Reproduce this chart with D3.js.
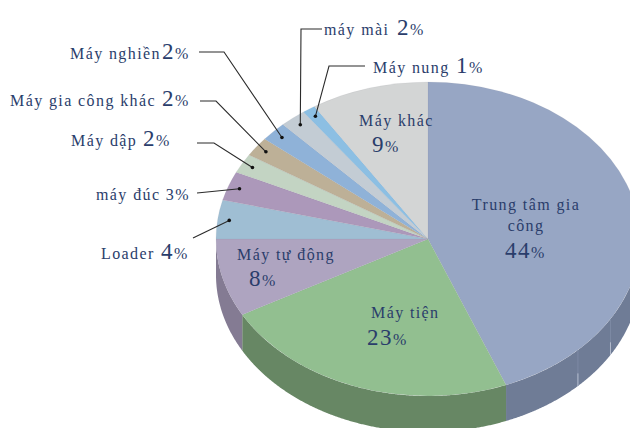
<!DOCTYPE html>
<html>
<head>
<meta charset="utf-8">
<script src="https://cdn.jsdelivr.net/npm/d3@7"></script>
<style>
  html, body { margin: 0; background: #fff; }
  svg { display: block; }
  text { font-family: "Liberation Serif", serif; fill: #2a3d6b; font-size: 16px; letter-spacing: 1.4px; }
  .num { font-size: 23px; letter-spacing: 1.5px; }
</style>
</head>
<body>
<script>
// values, clockwise from 12 o'clock
const names = ["Trung tâm gia công", "Máy tiện", "Máy tự động", "Loader", "máy đúc", "Máy dập",
  "Máy gia công khác", "Máy nghiền", "máy mài", "Máy nung", "Máy khác"];
const values = [44, 23, 8, 4, 3, 2, 2, 2, 2, 1, 9];
const topColors = ["#97a6c4", "#92bf90", "#aea4c0", "#9fbed3", "#ac98ba", "#c3d4c3",
  "#bdb097", "#8fb2d8", "#c3ccd4", "#8cbfe3", "#d3d5d5"];
const sideColors = ["#6f7c96", "#678764", "#847b93", "#7d93a3", "#83748e", "#94a294",
  "#908673", "#6d88a5", "#959ca2", "#6b92ad", "#a1a3a3"];

const width = 630, height = 428;
const cx = 428, cy = 239, rx = 212, ry = 157, depth = 36;

// label layout: text lines, where the value goes, and the leader elbow
const labelLayout = [
  {lines: ["Trung tâm gia", "công"], x: 526, y: 210, anchor: "middle", lh: 21, valueX: 505, valueDy: 27},
  {lines: [names[1]], x: 371, y: 318, valueX: 367, valueDy: 27},
  {lines: [names[2]], x: 237, y: 260, valueX: 249, valueDy: 26},
  {lines: [names[3]], x: 101, y: 259, inline: 161, leader: [[193, 238]]},
  {lines: [`${names[4]} ${values[4]}%`], x: 96, y: 200, leader: [[197, 193]], noValue: true},
  {lines: [names[5]], x: 71, y: 146, inline: 143, leader: [[197, 143], [214, 143]]},
  {lines: [names[6]], x: 10, y: 106, inline: 162, leader: [[200, 101], [216, 101]]},
  {lines: [names[7]], x: 70, y: 59, inline: 162, leader: [[199, 52], [224, 52]]},
  {lines: [names[8]], x: 324, y: 35, inline: 397, leader: [[322, 29], [301, 29]]},
  {lines: [names[9]], x: 373, y: 73, inline: 456, leader: [[365, 66], [329, 66]]},
  {lines: [names[10]], x: 359, y: 126, valueX: 372, valueDy: 26}
];

const svg = d3.select("body").append("svg")
    .attr("width", width)
    .attr("height", height);

const slices = d3.pie().sort(null)(values);
const px = a => rx * Math.sin(a);
const py = a => -ry * Math.cos(a);

// side wall, only where the rim faces the viewer
const wall = d3.area()
    .x(px)
    .y0(py)
    .y1(a => py(a) + depth);

const chart = svg.append("g")
    .attr("transform", `translate(${cx},${cy})`);

chart.append("g")
  .selectAll("path")
  .data(slices.filter(d => d.startAngle < 1.5 * Math.PI))
  .join("path")
    .attr("fill", d => sideColors[d.index])
    .attr("d", d => {
      const a0 = Math.max(d.startAngle, Math.PI / 2);
      const a1 = Math.min(d.endAngle, 1.5 * Math.PI);
      return wall(d3.range(a0, a1, 0.005).concat(a1));
    });

// faint seams on the rim of the big slice, lighter near the bottom
const seams = [0.67, 0.75].map(t => Math.PI * t);
const seamG = chart.append("g");
seamG.selectAll("line.a")
  .data(seams)
  .join("line")
    .attr("class", "a")
    .attr("x1", px)
    .attr("x2", px)
    .attr("y1", py)
    .attr("y2", a => py(a) + depth)
    .attr("stroke", "#7d8aa4")
    .attr("stroke-width", 1);
seamG.selectAll("line.b")
  .data(seams)
  .join("line")
    .attr("class", "b")
    .attr("x1", px)
    .attr("x2", px)
    .attr("y1", a => py(a) + depth * 0.65)
    .attr("y2", a => py(a) + depth)
    .attr("stroke", "#b4bccd")
    .attr("stroke-width", 1);

const arc = d3.arc().innerRadius(0).outerRadius(rx);

chart.append("g")
    .attr("transform", `scale(1,${ry / rx})`)
  .selectAll("path")
  .data(slices)
  .join("path")
    .attr("fill", d => topColors[d.index])
    .attr("stroke", "#8f949c")
    .attr("stroke-opacity", 0.2)
    .attr("stroke-width", 0.6)
    .attr("d", arc)
  .append("title")
    .text(d => `${names[d.index]} ${d.data}%`);

// leaders end on a dot inside the slice
const leaderLine = d3.line();
const dotAt = d => {
  const a = (d.startAngle + d.endAngle) / 2;
  return [cx + 0.945 * px(a), cy + 0.945 * py(a)];
};

const leaders = svg.append("g");
slices.forEach((d, i) => {
  const l = labelLayout[i];
  if (!l.leader) return;
  const end = dotAt(d);
  leaders.append("path")
      .attr("fill", "none")
      .attr("stroke", "#2b2b2b")
      .attr("stroke-width", 1.1)
      .attr("d", leaderLine([...l.leader, end]));
  leaders.append("circle")
      .attr("cx", end[0])
      .attr("cy", end[1])
      .attr("r", 1.8)
      .attr("fill", "#111");
});

const valueText = (g, x, y, v) => {
  const t = g.append("text").attr("x", x).attr("y", y);
  t.append("tspan").attr("class", "num").text(v);
  t.append("tspan").text("%");
};

const labels = svg.append("g");
labelLayout.forEach((l, i) => {
  l.lines.forEach((s, j) => {
    labels.append("text")
        .attr("x", l.x)
        .attr("y", l.y + j * (l.lh || 0))
        .attr("text-anchor", l.anchor || "start")
        .text(s);
  });
  if (l.noValue) return;
  if (l.inline) {
    valueText(labels, l.inline, l.y, values[i]);
  } else {
    valueText(labels, l.valueX, l.y + (l.lines.length - 1) * (l.lh || 0) + l.valueDy, values[i]);
  }
});
</script>
</body>
</html>
